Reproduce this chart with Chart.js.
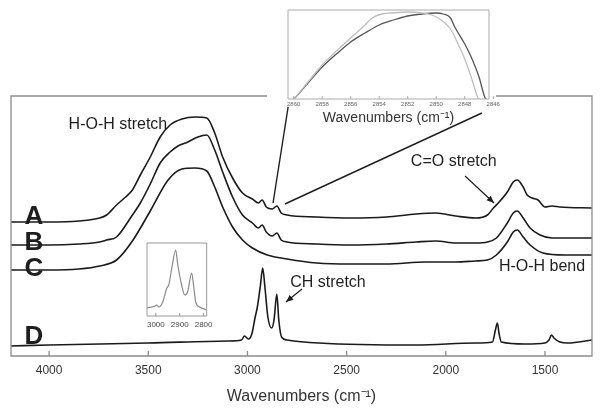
<!DOCTYPE html>
<html lang="en">
<head>
<meta charset="UTF-8">
<title>IR spectra A-D</title>
<style>
  body { margin: 0; background: #fff; }
  #wrap { position: relative; width: 601px; height: 415px; }
  #wrap canvas { position: absolute; }
  #main { left: 0; top: 0; }
  #zoomTop { left: 262px; top: 0; }
  #zoomCH { left: 137px; top: 236px; }
</style>
<script src="https://cdn.jsdelivr.net/npm/chart.js"></script>
</head>
<body>
<div id="wrap">
  <canvas id="main" width="601" height="415"></canvas>
  <canvas id="zoomTop" width="250" height="130"></canvas>
  <canvas id="zoomCH" width="80" height="100"></canvas>
</div>
<script>
// ---- data (wavenumbers in cm-1, intensities in arbitrary offset units) ----
const mainTicks = [4000, 3500, 3000, 2500, 2000, 1500];

const wnA = [4192, 4000, 3850, 3745, 3710, 3660, 3620, 3580, 3540, 3490, 3440, 3390, 3330, 3265, 3205, 3165, 3125, 3075, 3025, 2975,
             2945, 2926, 2905, 2875, 2852, 2830, 2800, 2650, 2480, 2300, 2150, 2050, 1950, 1850, 1790, 1760, 1740, 1690, 1660, 1640,
             1610, 1590, 1565, 1535, 1500, 1465, 1425, 1263];
const absA = [134, 134, 135, 138, 141, 151, 158, 166, 181, 199, 219, 231, 237, 239, 238, 223, 199, 178, 163, 157,
              153, 156, 149, 147, 150, 143, 141, 139, 138, 139, 142, 143, 140, 138, 141, 148, 152, 164, 174, 176,
              169, 161, 158, 156, 149, 150, 149, 148];

const wnB = [4192, 4000, 3850, 3745, 3710, 3660, 3580, 3540, 3490, 3440, 3390, 3350, 3300, 3250, 3205, 3165, 3125, 3075, 3025, 2975,
             2945, 2926, 2905, 2875, 2852, 2830, 2800, 2650, 2480, 2300, 2150, 2050, 1950, 1850, 1790, 1745, 1690, 1660, 1640, 1610,
             1575, 1525, 1465, 1263];
const absB = [111, 111, 112, 114, 116, 119, 141, 153, 172, 193, 204, 210, 214, 219, 221, 206, 184, 159, 141, 133,
              128, 131, 124, 120, 123, 116, 114, 112, 111, 112, 114, 115, 113, 113, 114, 118, 133, 143, 145, 138,
              128, 121, 118, 118];

const wnC = [4192, 4000, 3850, 3745, 3660, 3580, 3490, 3400, 3330, 3265, 3205, 3165, 3125, 3075, 3025, 2975, 2900, 2800, 2650, 2480,
             2300, 2100, 1950, 1850, 1790, 1745, 1690, 1660, 1640, 1610, 1575, 1510, 1400, 1263];
const absC = [86, 86, 87, 90, 96, 115, 145, 176, 187, 188, 185, 169, 149, 129, 116, 108, 101, 97, 93, 92,
              92, 94, 94, 95, 96, 101, 114, 124, 126, 119, 111, 103, 101, 101];

const wnD = [4192, 4000, 3500, 3100, 3030, 3015, 2995, 2978, 2962, 2950, 2935, 2923, 2912, 2897, 2878, 2866, 2852, 2842, 2828, 2800,
             2640, 2150, 1850, 1765, 1750, 1740, 1732, 1720, 1600, 1500, 1480, 1467, 1455, 1425, 1385, 1263];
const absD = [10, 11, 13, 15, 16, 20, 17, 22, 38, 49, 70, 88, 69, 39, 28, 36, 62, 36, 19, 16,
              13, 11, 13, 14, 26, 33, 23, 14, 12, 13, 16, 21, 18, 14, 13, 16];

// top inset: CH2 band 2860-2846 cm-1
const topTicks = [2860, 2858, 2856, 2854, 2852, 2850, 2848, 2846];
const wnDark = [2860.4, 2860, 2859, 2858, 2857, 2856, 2855, 2854, 2853, 2852, 2851, 2850, 2849.5, 2849, 2848.7, 2848, 2847.55, 2847, 2846.6, 2846.3];
const dark = [-4, 0, 16, 32, 45, 57, 66, 74, 79, 83, 85, 86, 85, 81, 72, 55, 42, 22, 2, -4];
const wnLight = [2860.4, 2860, 2859, 2858, 2857, 2856, 2855, 2854.5, 2853.8, 2853.1, 2852, 2851, 2850.3, 2849.65, 2849, 2848.5, 2848, 2847.55, 2847.1, 2846.8];
const light = [-4, 0, 17, 34, 48, 61, 74, 81, 85, 86, 87, 86, 84, 79, 70, 56, 40, 22, 2, -4];

// small inset: CH stretch region of D
const chTicks = [3000, 2900, 2800];
const wnCH = [3037, 3004, 2996, 2987, 2971, 2954, 2946, 2933, 2917, 2908, 2892, 2879, 2867, 2850, 2842, 2833, 2817, 2787];
const ch = [8, 10, 11, 9, 14, 28, 31, 48, 66, 51, 31, 21, 24, 43, 31, 14, 9, 6];

// ---- helpers ----
const FONT = '"Liberation Sans", Arial, Helvetica, sans-serif';

function series(wn, val, color, width) {
  return {
    data: wn.map((w, i) => ({ x: w, y: val[i] })),
    borderColor: color, borderWidth: width,
    pointRadius: 0, fill: false, cubicInterpolationMode: 'monotone'
  };
}

// frame around the plot area, optional gap in the top edge, inward ticks
const framePlugin = {
  id: 'frame',
  afterDraw(chart, args, opts) {
    const { ctx, chartArea: a, scales: { x } } = chart;
    ctx.save();
    ctx.strokeStyle = opts.color;
    ctx.lineWidth = opts.width;
    ctx.beginPath();
    const g = opts.gap;
    ctx.moveTo(g ? g[0] : a.right, a.top);
    ctx.lineTo(a.left, a.top);
    ctx.lineTo(a.left, a.bottom);
    ctx.lineTo(a.right, a.bottom);
    ctx.lineTo(a.right, a.top);
    if (g) ctx.lineTo(g[1], a.top); else ctx.closePath();
    x.ticks.forEach(t => {
      const px = x.getPixelForValue(t.value);
      ctx.moveTo(px, a.bottom);
      ctx.lineTo(px, a.bottom - opts.tick);
    });
    ctx.stroke();
    ctx.restore();
  }
};

// text labels, arrows and zoom connector lines, placed in data coordinates
const notesPlugin = {
  id: 'notes',
  afterDatasetsDraw(chart, args, opts) {
    const { ctx, scales: { x, y } } = chart;
    const px = p => [x.getPixelForValue(p[0]), y.getPixelForValue(p[1])];
    ctx.save();
    ctx.strokeStyle = opts.color;
    ctx.fillStyle = opts.color;
    opts.lines.forEach(l => {
      const a = px(l.from), b = px(l.to);
      ctx.lineWidth = l.width;
      ctx.beginPath();
      ctx.moveTo(a[0], a[1]);
      ctx.lineTo(b[0], b[1]);
      ctx.stroke();
      if (l.head) {
        const ang = Math.atan2(b[1] - a[1], b[0] - a[0]);
        ctx.beginPath();
        ctx.moveTo(b[0], b[1]);
        ctx.lineTo(b[0] - l.head * Math.cos(ang - 0.4), b[1] - l.head * Math.sin(ang - 0.4));
        ctx.lineTo(b[0] - l.head * Math.cos(ang + 0.4), b[1] - l.head * Math.sin(ang + 0.4));
        ctx.closePath();
        ctx.fill();
      }
    });
    opts.labels.forEach(t => {
      const p = px(t.at);
      ctx.font = t.font;
      ctx.textAlign = 'center';
      ctx.textBaseline = 'middle';
      ctx.fillText(t.text, p[0], p[1]);
    });
    ctx.restore();
  }
};

function xAxis(min, max, ticks, height, tickFont, tickColor, tickPad, title) {
  return {
    type: 'linear', reverse: true, min: min, max: max,
    afterBuildTicks: s => { s.ticks = ticks.map(v => ({ value: v })); },
    afterFit: s => { s.height = height; },
    grid: { display: false, drawTicks: false },
    border: { display: false },
    ticks: { autoSkip: false, maxRotation: 0, padding: tickPad, color: tickColor,
             font: { family: FONT, size: tickFont }, callback: v => String(v) },
    title: title
  };
}

const labelFont = '16px ' + FONT;
const letterFont = 'bold 26px ' + FONT;

// ---- top inset (built first so the main frame can leave a gap for it) ----
const insetEl = document.getElementById('zoomTop');
const insetChart = new Chart(insetEl, {
  type: 'line',
  data: {
    datasets: [
      series(wnLight, light, '#bdbdbd', 1.3),
      series(wnDark, dark, '#555', 1.3)
    ]
  },
  options: {
    responsive: false, animation: false, devicePixelRatio: 1,
    layout: { padding: { left: 26, right: 23, top: 10, bottom: 0 } },
    plugins: {
      legend: { display: false }, tooltip: { enabled: false },
      frame: { color: '#aaa', width: 1, tick: 3 }
    },
    scales: {
      x: xAxis(2846.3, 2860.4, topTicks, 31, 6, '#666', 1.5,
        { display: true, text: 'Wavenumbers (cm\u207B\u00B9)', color: '#333',
          font: { family: FONT, size: 14 }, padding: { top: 0, bottom: 3.6 } }),
      y: { display: false, min: 0, max: 89 }
    }
  },
  plugins: [framePlugin]
});
const gap = [insetEl.offsetLeft + insetChart.chartArea.left - 21,
             insetEl.offsetLeft + insetChart.chartArea.right + 7];

// ---- main chart ----
new Chart(document.getElementById('main'), {
  type: 'line',
  data: {
    datasets: [
      series(wnA, absA, '#1a1a1a', 1.6),
      series(wnB, absB, '#1a1a1a', 1.6),
      series(wnC, absC, '#1a1a1a', 1.6),
      series(wnD, absD, '#1a1a1a', 1.6)
    ]
  },
  options: {
    responsive: false, animation: false, devicePixelRatio: 1,
    layout: { padding: { left: 11, right: 9, top: 96, bottom: 0 } },
    plugins: {
      legend: { display: false }, tooltip: { enabled: false },
      frame: { color: '#8c8c8c', width: 1.3, tick: 5, gap: gap },
      notes: {
        color: '#1e1e1e',
        labels: [
          { text: 'H-O-H stretch', at: [3653, 231], font: labelFont },
          { text: 'C=O stretch', at: [1960, 194], font: labelFont },
          { text: 'H-O-H bend', at: [1515, 89], font: labelFont },
          { text: 'CH stretch', at: [2594, 73], font: labelFont },
          { text: 'A', at: [4076, 139.5], font: letterFont },
          { text: 'B', at: [4076, 113], font: letterFont },
          { text: 'C', at: [4076, 87], font: letterFont },
          { text: 'D', at: [4076, 19], font: letterFont }
        ],
        lines: [
          { from: [1903, 180], to: [1757, 153], width: 1.2, head: 8 },
          { from: [2725, 67], to: [2806, 54], width: 1.2, head: 8 },
          { from: [2795, 249], to: [2871, 153], width: 1.4 },
          { from: [1818, 243], to: [2811, 152], width: 1.4 }
        ]
      }
    },
    scales: {
      x: xAxis(1263, 4192, mainTicks, 59, 12, '#333', 7,
        { display: true, text: 'Wavenumbers (cm\u207B\u00B9)', color: '#333',
          font: { family: FONT, size: 16 }, padding: { top: 0, bottom: 9 } }),
      y: { display: false, min: 0, max: 260 }
    }
  },
  plugins: [framePlugin, notesPlugin]
});

// ---- small CH inset ----
new Chart(document.getElementById('zoomCH'), {
  type: 'line',
  data: { datasets: [series(wnCH, ch, '#8a8a8a', 1.2)] },
  options: {
    responsive: false, animation: false, devicePixelRatio: 1,
    layout: { padding: { left: 10, right: 10, top: 7, bottom: 0 } },
    plugins: {
      legend: { display: false }, tooltip: { enabled: false },
      frame: { color: '#999', width: 1, tick: 3 }
    },
    scales: {
      x: xAxis(2787, 3037, chTicks, 20, 8, '#444', 4, { display: false }),
      y: { display: false, min: 0, max: 73 }
    }
  },
  plugins: [framePlugin]
});
</script>
</body>
</html>
